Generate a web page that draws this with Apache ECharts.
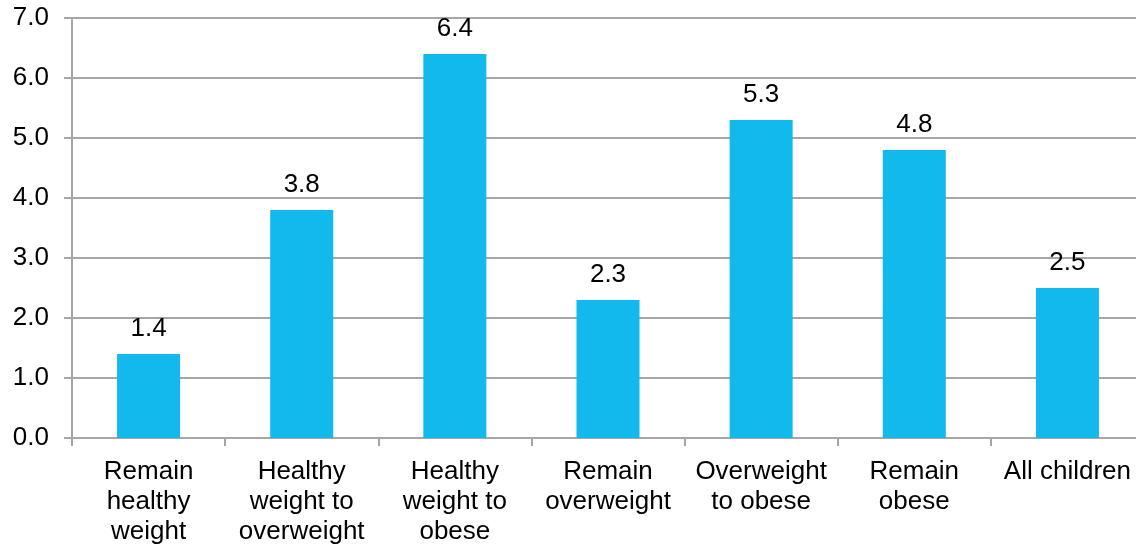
<!DOCTYPE html>
<html>
<head>
<meta charset="utf-8">
<script src="https://cdn.jsdelivr.net/npm/echarts@6/dist/echarts.min.js"></script>
<style>
  html, body { margin: 0; padding: 0; background: #fff; overflow: hidden; }
  #chart { width: 1136px; height: 547px; }
</style>
</head>
<body>
<div id="chart"></div>
<script>
// Categories of weight change and their values
const categories = [
  'Remain\nhealthy\nweight',
  'Healthy\nweight to\noverweight',
  'Healthy\nweight to\nobese',
  'Remain\noverweight',
  'Overweight\nto obese',
  'Remain\nobese',
  'All children'
];
const values = [1.4, 3.8, 6.4, 2.3, 5.3, 4.8, 2.5];

const chart = echarts.init(document.getElementById('chart'));
const font = 'Liberation Sans, Arial, sans-serif';
const gridColor = '#a6a6a6';

chart.setOption({
  animation: false,
  // the plot runs slightly past the right edge of the canvas
  grid: {
    left: 72, width: 1072, top: 18, height: 420,
    containLabel: false, outerBoundsMode: 'none'
  },
  xAxis: {
    type: 'category',
    data: categories,
    axisLine: { lineStyle: { color: gridColor, width: 2 } },
    axisTick: { show: true, length: 8, lineStyle: { color: gridColor, width: 2 } },
    axisLabel: {
      color: '#000', fontFamily: font, fontSize: 26, lineHeight: 30,
      margin: 19, interval: 0
    }
  },
  yAxis: {
    type: 'value',
    min: 0, max: 7, interval: 1,
    axisLine: { show: true, lineStyle: { color: gridColor, width: 2 } },
    axisTick: { show: true, length: 8, lineStyle: { color: gridColor, width: 2 } },
    splitLine: { lineStyle: { color: gridColor, width: 2 } },
    axisLabel: {
      color: '#000', fontFamily: font, fontSize: 26, margin: 23,
      formatter: v => v.toFixed(1)
    }
  },
  series: [{
    type: 'bar',
    data: values,
    barWidth: 63,
    itemStyle: { color: '#12B9EC' },
    label: {
      show: true, position: 'top', distance: 12,
      color: '#000', fontFamily: font, fontSize: 26,
      formatter: p => p.value.toFixed(1)
    }
  }]
});
</script>
</body>
</html>
